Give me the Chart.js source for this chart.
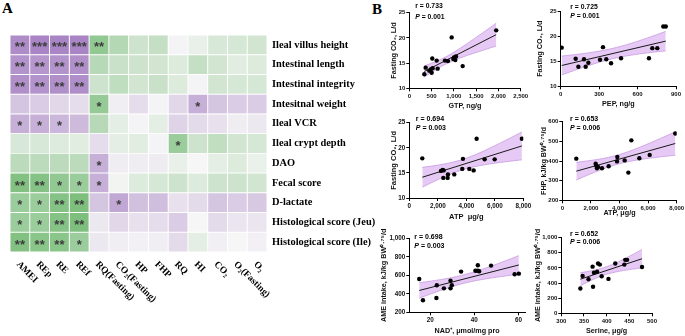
<!DOCTYPE html>
<html>
<head>
<meta charset="utf-8">
<script src="https://cdn.jsdelivr.net/npm/chart.js@4.4.1/dist/chart.umd.min.js"></script>
<style>
	html, body { margin: 0; padding: 0; background: #fff; }
	body { width: 685px; height: 336px; position: relative; overflow: hidden; }
	canvas { position: absolute; }
	.panel { position: absolute; font: bold 15px "Liberation Serif", serif; line-height: 1; color: #000; }
</style>
</head>
<body>
<div class="panel" style="left:2px;top:1px">A</div>
<div class="panel" style="left:372px;top:2px">B</div>
<canvas id="heat"></canvas>
<canvas id="p1"></canvas>
<canvas id="p2"></canvas>
<canvas id="p3"></canvas>
<canvas id="p4"></canvas>
<canvas id="p5"></canvas>
<canvas id="p6"></canvas>
<script>
//---------------------------------------------------------
// Panel A data: correlation heatmap
//---------------------------------------------------------
const ROWS = ["Ileal villus height", "Intestinal length", "Intestinal integrity", "Intesitnal weight", "Ileal VCR",
	"Ileal crypt depth", "DAO", "Fecal score", "D-lactate", "Histological score (Jeu)", "Histological score (Ile)"];
const COLS = ["AMEI", "REp", "RE", "REf", "RQ(Fasting)", "CO₂(Fasting)", "HP", "FHP", "RQ", "HI", "CO₂", "O₂(Fasting)", "O₂"];

const CORR = [
	[0.75, 0.8, 0.8, 0.8, -0.6, -0.4, -0.25, -0.3, 0.02, -0.08, -0.18, -0.2, -0.22],
	[0.7, 0.68, 0.7, 0.72, -0.38, -0.28, -0.25, -0.22, -0.15, -0.3, -0.22, -0.12, -0.15],
	[0.72, 0.7, 0.72, 0.74, -0.25, -0.33, -0.22, -0.27, -0.15, 0.02, -0.22, -0.2, -0.2],
	[0.35, 0.3, 0.22, 0.18, -0.58, 0.06, 0.18, 0.02, 0.22, 0.5, 0.35, 0.3, 0.3],
	[0.5, 0.5, 0.45, 0.42, -0.38, -0.1, 0.02, -0.1, 0.25, 0.2, 0.15, 0.07, 0.1],
	[-0.18, -0.18, -0.15, -0.12, 0.18, -0.1, -0.12, 0.02, -0.55, -0.25, -0.32, -0.22, -0.2],
	[-0.35, -0.35, -0.35, -0.35, 0.5, 0.07, 0.07, 0.08, -0.08, 0.0, -0.1, -0.15, -0.07],
	[-0.7, -0.68, -0.6, -0.55, 0.5, -0.03, -0.15, -0.2, -0.25, -0.15, -0.25, -0.25, -0.22],
	[-0.55, -0.55, -0.68, -0.72, 0.35, 0.55, 0.38, 0.4, 0.15, 0.2, 0.35, 0.3, 0.32],
	[-0.55, -0.55, -0.68, -0.72, 0.1, 0.22, 0.15, 0.18, 0.3, 0.0, 0.2, 0.12, 0.12],
	[-0.7, -0.65, -0.65, -0.55, 0.1, 0.06, 0.04, 0.06, 0.2, -0.1, 0.05, 0.0, 0.04],
];

const SIG = [
	["**", "***", "***", "***", "**", "", "", "", "", "", "", "", ""],
	["**", "**", "**", "**", "", "", "", "", "", "", "", "", ""],
	["**", "**", "**", "**", "", "", "", "", "", "", "", "", ""],
	["", "", "", "", "*", "", "", "", "", "*", "", "", ""],
	["*", "*", "*", "", "", "", "", "", "", "", "", "", ""],
	["", "", "", "", "", "", "", "", "*", "", "", "", ""],
	["", "", "", "", "*", "", "", "", "", "", "", "", ""],
	["**", "**", "*", "*", "*", "", "", "", "", "", "", "", ""],
	["*", "*", "**", "**", "", "*", "", "", "", "", "", "", ""],
	["*", "*", "**", "**", "", "", "", "", "", "", "", "", ""],
	["**", "**", "**", "*", "", "", "", "", "", "", "", "", ""],
];

//---------------------------------------------------------
// Panel B data: scatter plots
//---------------------------------------------------------
const gtp = [337, 367, 449, 487, 502, 524, 516, 614, 636, 801, 868, 951, 988, 1003, 1033, 1048, 1198, 1950];
const co2ByGtp = [12.8, 14.1, 13.5, 13.8, 13.1, 14.0, 15.9, 15.5, 13.9, 15.5, 15.4, 20.1, 15.8, 16.1, 15.6, 16.3, 14.4, 21.5];

const pep = [8, 117, 138, 182, 195, 216, 307, 330, 356, 393, 471, 689, 715, 754, 801, 820];
const co2ByPep = [17.7, 15.5, 13.9, 15.4, 13.9, 14.7, 15.3, 17.8, 15.4, 14.6, 15.6, 15.6, 17.6, 17.6, 21.9, 21.9];

const atpA = [912, 2222, 2339, 2409, 2386, 2713, 2690, 3158, 3719, 3766, 4211, 4515, 4725, 5287, 5988, 7900];
const co2ByAtp = [17.9, 15.4, 15.6, 15.5, 14.0, 14.7, 14.0, 14.7, 15.8, 17.8, 15.8, 15.5, 21.8, 17.7, 17.7, 21.8];

const atpB = [980, 2332, 2379, 2426, 2496, 2776, 3242, 3825, 3848, 4361, 4618, 4828, 5388, 6111, 7900];
const fhpByAtp = [412, 386, 376, 363, 370, 363, 373, 398, 420, 403, 341, 505, 414, 431, 540];

const nad = [15.0, 16.7, 23.0, 22.8, 26.2, 29.2, 29.2, 29.8, 34.0, 40.5, 41.6, 41.6, 42.2, 47.6, 58.3, 60.2];
const ameByNad = [560, 330, 492, 355, 459, 542, 459, 492, 640, 650, 650, 708, 643, 705, 611, 618];

const serine = [342, 347, 360, 369, 370, 372, 379, 381, 385, 389, 404, 419, 439, 441, 445, 478];
const ameBySerine = [329, 495, 450, 617, 351, 536, 550, 658, 644, 491, 455, 658, 644, 707, 707, 613];

// Tick labels
const TICKS_CO2 = [10, 15, 20, 25];
const TICKS_GTP = [0, 500, 1000, 1500, 2000, 2500];
const TICKS_PEP = [0, 300, 600, 900];
const TICKS_ATP = [0, 2000, 4000, 6000, 8000];
const TICKS_FHP = [200, 300, 400, 500, 600];
const TICKS_NAD = [20, 40, 60];
const TICKS_AME_A = [200, 400, 600, 800, 1000];
const TICKS_AME_B = [0, 200, 400, 600, 800, 1000];
const TICKS_SERINE = [300, 350, 400, 450, 500];

//---------------------------------------------------------
// Styling
//---------------------------------------------------------
const SANS = '"Liberation Sans", Arial, sans-serif';
const SERIF = '"Liberation Serif", "Times New Roman", serif';
const BAND = "rgba(214, 168, 238, 0.62)";
const BAND_EDGE = "#c79ae0";

// diverging colour: green (negative) -> grey -> purple (positive)
const cellColor = (v) => {
	const base = [246, 246, 246];
	const end = v >= 0 ? [150, 105, 185] : [80, 170, 80];
	const k = Math.min(Math.abs(v), 1);
	const c = base.map((b, i) => Math.round(b + (end[i] - b) * k));
	return `rgb(${c[0]},${c[1]},${c[2]})`;
};

const place = (cv, box) => {
	cv.width = box[2];
	cv.height = box[3];
	cv.style.left = box[0] + "px";
	cv.style.top = box[1] + "px";
};

//---------------------------------------------------------
// Heatmap
//---------------------------------------------------------
const HEAT_BOX = [0, 0, 382, 336];
const HEAT_AREA = [10, 35, 267, 252];

const starsPlugin = {
	id: "stars",
	afterDatasetsDraw(chart) {
		const { ctx } = chart;
		ctx.save();
		ctx.fillStyle = "#3c3c3c";
		ctx.font = `bold 13px ${SANS}`;
		ctx.textAlign = "center";
		ctx.textBaseline = "middle";
		chart.data.datasets.forEach((ds, j) => {
			chart.getDatasetMeta(j).data.forEach((el, i) => {
				const txt = SIG[i][j];
				if (txt) ctx.fillText(txt, (el.x + el.base) / 2, el.y + 3);
			});
		});
		ctx.restore();
	},
};

// column labels, rotated 45deg down-right from each column
const colLabelsPlugin = {
	id: "colLabels",
	afterDraw(chart) {
		const { ctx, chartArea, scales } = chart;
		ctx.save();
		ctx.fillStyle = "#000";
		ctx.font = `bold 9.5px ${SERIF}`;
		ctx.textAlign = "left";
		ctx.textBaseline = "middle";
		COLS.forEach((c, j) => {
			ctx.save();
			ctx.translate(scales.x.getPixelForValue(j) - 2, chartArea.bottom + 11);
			ctx.rotate(Math.PI / 4);
			ctx.fillText(c, 0, 0);
			ctx.restore();
		});
		ctx.restore();
	},
};

const heatCanvas = document.getElementById("heat");
place(heatCanvas, HEAT_BOX);

new Chart(heatCanvas, {
	type: "bar",
	data: {
		labels: ROWS,
		datasets: COLS.map((c, j) => ({
			label: c,
			data: ROWS.map(() => [j - 0.5, j + 0.5]),
			backgroundColor: ROWS.map((r, i) => cellColor(CORR[i][j])),
			borderColor: "#ffffff",
			borderWidth: 0.8,
			borderSkipped: false,
			grouped: false,
			barPercentage: 1,
			categoryPercentage: 1,
		})),
	},
	options: {
		indexAxis: "y",
		responsive: false,
		animation: false,
		layout: {
			padding: {
				left: HEAT_AREA[0],
				top: HEAT_AREA[1],
				right: 0,
				bottom: HEAT_BOX[3] - HEAT_AREA[3],
			},
		},
		scales: {
			x: {
				type: "linear",
				min: -0.5,
				max: COLS.length - 0.5,
				display: false,
			},
			y: {
				type: "category",
				position: "right",
				grid: { display: false, drawTicks: false },
				border: { display: false },
				ticks: {
					color: "#000",
					padding: 5,
					font: { family: SERIF, size: 10.4, weight: "bold" },
				},
				afterFit: (scale) => {
					scale.width = HEAT_BOX[2] - HEAT_AREA[2];
					scale.paddingTop = 0;
					scale.paddingBottom = 0;
				},
			},
		},
		plugins: {
			legend: { display: false },
			tooltip: { enabled: false },
		},
	},
	plugins: [starsPlugin, colLabelsPlugin],
});

//---------------------------------------------------------
// Scatter plots with regression line and 95% band
//---------------------------------------------------------
const T95 = { 11: 2.201, 12: 2.179, 13: 2.16, 14: 2.145, 15: 2.131, 16: 2.12, 17: 2.11 };

const regression = (xs, ys) => {
	const n = xs.length;
	const mx = xs.reduce((s, v) => s + v, 0) / n;
	const my = ys.reduce((s, v) => s + v, 0) / n;
	let sxx = 0, sxy = 0;
	xs.forEach((x, i) => {
		sxx += (x - mx) ** 2;
		sxy += (x - mx) * (ys[i] - my);
	});
	const b = sxy / sxx;
	const a = my - b * mx;
	let sse = 0;
	xs.forEach((x, i) => (sse += (ys[i] - a - b * x) ** 2));
	const s = Math.sqrt(sse / (n - 2));
	const t = T95[n - 2] || 2.12;
	const lo = Math.min(...xs), hi = Math.max(...xs);
	const upper = [], lower = [];
	for (let k = 0; k <= 40; k++) {
		const x = lo + ((hi - lo) * k) / 40;
		const yh = a + b * x;
		const half = t * s * Math.sqrt(1 / n + (x - mx) ** 2 / sxx);
		upper.push({ x, y: yh + half });
		lower.push({ x, y: yh - half });
	}
	return {
		line: [{ x: lo, y: a + b * lo }, { x: hi, y: a + b * hi }],
		upper,
		lower,
	};
};

const statsPlugin = {
	id: "stats",
	afterDraw(chart, args, o) {
		const { ctx, chartArea } = chart;
		const x = chartArea.left + o.dx;
		ctx.save();
		ctx.fillStyle = "#000";
		ctx.textAlign = "left";
		ctx.textBaseline = "middle";
		ctx.font = `bold ${o.size}px ${SANS}`;
		ctx.fillText("r = " + o.r, x, chartArea.top + o.dy1);
		ctx.font = `italic bold ${o.size}px ${SANS}`;
		ctx.fillText("P", x, chartArea.top + o.dy2);
		const w = ctx.measureText("P").width;
		ctx.font = `bold ${o.size}px ${SANS}`;
		ctx.fillText(" = " + o.p, x + w, chartArea.top + o.dy2);
		ctx.restore();
	},
};

const axisStyle = (lay, range, tickList, title) => ({
	type: "linear",
	min: range[0],
	max: range[1],
	border: { display: true, color: "#000", width: 1 },
	grid: { display: true, drawOnChartArea: false, drawTicks: true, tickLength: 3, color: "#000", lineWidth: 1 },
	ticks: {
		color: "#111",
		padding: 1,
		font: { family: SANS, size: lay.tick, weight: "bold" },
		callback: (v) => v.toLocaleString("en-US"),
	},
	title: {
		display: true,
		text: title,
		color: "#111",
		padding: 0,
		font: { family: SANS, size: lay.title, weight: "bold" },
	},
	afterBuildTicks: (scale) => {
		scale.ticks = tickList.map((v) => ({ value: v }));
	},
});

const scatterChart = (id, d, lay) => {
	const cv = document.getElementById(id);
	place(cv, lay.box);
	const [L, T, W, H] = lay.box;
	const [l, t, r, b] = lay.area;
	const lh = lay.title * 1.2;
	const padL = lay.yTitleX - L - lh / 2;
	const padB = T + H - lay.xTitleY - lh / 2;
	const fit = regression(d.x, d.y);

	const xScale = axisStyle(lay, d.xRange, d.xTicks, d.xTitle);
	xScale.afterFit = (scale) => {
		scale.height = H - padB - (b - T);
		scale.paddingLeft = 0;
		scale.paddingRight = 0;
	};
	const yScale = axisStyle(lay, d.yRange, d.yTicks, d.yTitle);
	yScale.afterFit = (scale) => {
		scale.width = l - L - padL;
		scale.paddingTop = 0;
		scale.paddingBottom = 0;
	};

	new Chart(cv, {
		type: "scatter",
		data: {
			datasets: [
				{
					data: d.x.map((x, i) => ({ x, y: d.y[i] })),
					pointRadius: 2.2,
					pointBackgroundColor: "#000",
					pointBorderWidth: 0,
				},
				{
					type: "line",
					data: fit.line,
					borderColor: "#1a1a1a",
					borderWidth: 1,
					pointRadius: 0,
					fill: false,
				},
				{
					type: "line",
					data: fit.upper,
					borderColor: BAND_EDGE,
					borderWidth: 0.8,
					pointRadius: 0,
					fill: false,
				},
				{
					type: "line",
					data: fit.lower,
					borderColor: BAND_EDGE,
					borderWidth: 0.8,
					pointRadius: 0,
					fill: "-1",
					backgroundColor: BAND,
				},
			],
		},
		options: {
			responsive: false,
			animation: false,
			layout: {
				padding: { left: padL, top: t - T, right: L + W - r, bottom: padB },
			},
			scales: { x: xScale, y: yScale },
			plugins: {
				legend: { display: false },
				tooltip: { enabled: false },
				stats: { r: d.r, p: d.p, dx: lay.dx, dy1: lay.dy1, dy2: lay.dy2, size: lay.stat },
			},
		},
		plugins: [statsPlugin],
	});
};

scatterChart("p1",
	{ x: gtp, y: co2ByGtp, xRange: [0, 2500], yRange: [10, 25], xTicks: TICKS_GTP, yTicks: TICKS_CO2,
		xTitle: "GTP, ng/g", yTitle: "Fasting CO₂, L/d", r: "0.733", p: "0.001" },
	{ box: [375, 0, 155, 115], area: [409.3, 12.7, 520.7, 88.3], yTitleX: 394.5, xTitleY: 106,
		tick: 6, title: 7.2, stat: 6.8, dx: 6, dy1: -7, dy2: 4 });

scatterChart("p2",
	{ x: pep, y: co2ByPep, xRange: [0, 900], yRange: [10, 25], xTicks: TICKS_PEP, yTicks: TICKS_CO2,
		xTitle: "PEP, ng/g", yTitle: "Fasting CO₂, L/d", r: "0.725", p: "0.001" },
	{ box: [530, 0, 155, 115], area: [560.7, 11, 676, 86.3], yTitleX: 540, xTitleY: 104,
		tick: 6, title: 7.2, stat: 6.8, dx: 9.6, dy1: -4, dy2: 4.7 });

scatterChart("p3",
	{ x: atpA, y: co2ByAtp, xRange: [0, 8000], yRange: [10, 25], xTicks: TICKS_ATP, yTicks: TICKS_CO2,
		xTitle: "ATP  μg/g", yTitle: "Fasting CO₂, L/d", r: "0.694", p: "0.003" },
	{ box: [375, 112, 160, 112], area: [409.3, 122.7, 523.3, 198], yTitleX: 394, xTitleY: 216.7,
		tick: 6.3, title: 7.5, stat: 7, dx: 6.5, dy1: -3.7, dy2: 5.6 });

scatterChart("p4",
	{ x: atpB, y: fhpByAtp, xRange: [0, 8000], yRange: [200, 600], xTicks: TICKS_ATP, yTicks: TICKS_FHP,
		xTitle: "ATP, μg/g", yTitle: "FHP, kJ/kg BW⁰·⁷⁵/d", r: "0.653", p: "0.006" },
	{ box: [530, 112, 155, 112], area: [562.3, 121.7, 676.7, 200.3], yTitleX: 544, xTitleY: 213.3,
		tick: 6, title: 7.2, stat: 7, dx: 7.7, dy1: -2.7, dy2: 6.3 });

scatterChart("p5",
	{ x: nad, y: ameByNad, xRange: [10.5, 63], yRange: [200, 1000], xTicks: TICKS_NAD, yTicks: TICKS_AME_A,
		xTitle: "NAD⁺, μmol/mg pro", yTitle: "AME intake, kJ/kg BW⁰·⁷⁵/d", r: "0.698", p: "0.003" },
	{ box: [375, 224, 155, 112], area: [409.3, 238.3, 525, 312.3], yTitleX: 384, xTitleY: 331,
		tick: 6.3, title: 7.2, stat: 7, dx: 5, dy1: -1, dy2: 7.4 });

scatterChart("p6",
	{ x: serine, y: ameBySerine, xRange: [300, 500], yRange: [0, 1000], xTicks: TICKS_SERINE, yTicks: TICKS_AME_B,
		xTitle: "Serine, μg/g", yTitle: "AME intake, kJ/kg BW⁰·⁷⁵/d", r: "0.652", p: "0.006" },
	{ box: [530, 224, 155, 112], area: [561.3, 237.7, 652, 313.3], yTitleX: 538, xTitleY: 331,
		tick: 6, title: 7.2, stat: 7, dx: 8.7, dy1: -3.4, dy2: 4.6 });
</script>
</body>
</html>
